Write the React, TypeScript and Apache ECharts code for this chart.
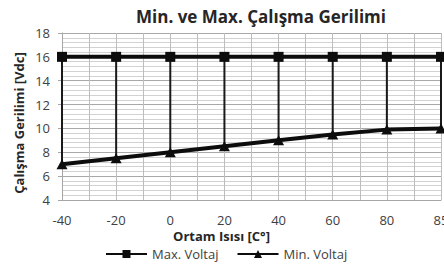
import React, { useEffect, useRef } from "react";
import * as echarts from "echarts";

const categories = ["-40", "-20", "0", "20", "40", "60", "80", "85"];
const maxVoltaj = [16, 16, 16, 16, 16, 16, 16, 16];
const minVoltaj = [7, 7.5, 8, 8.5, 9, 9.5, 9.9, 10];
const yTicks = { min: 4, max: 18, interval: 2 };
const titleText = "Min. ve Max. Çalışma Gerilimi";
const xTitle = "Ortam Isısı [C°]";
const yTitle = "Çalışma Gerilimi [Vdc]";

const FONT = "'Open Sans', 'Liberation Sans', sans-serif";
const TXT = "#404040";
const DARK = "#262626";

export default function App() {
  const ref = useRef<HTMLDivElement>(null);
  useEffect(() => {
    if (!ref.current) return;
    const chart = echarts.init(ref.current, undefined, { renderer: "svg" });
    const hiLo = categories.map((_, i) => [i, maxVoltaj[i], minVoltaj[i]]);
    chart.setOption({
      animation: false,
      backgroundColor: "#ffffff",
      textStyle: { fontFamily: FONT },
      graphic: [
        {
          type: "text",
          x: 261,
          y: 16.5,
          style: {
            text: titleText,
            textAlign: "center",
            textVerticalAlign: "middle",
            font: `bold 17px ${FONT}`,
            fill: DARK,
          },
        },
        {
          type: "text",
          x: 221.5,
          y: 236,
          style: {
            text: xTitle,
            textAlign: "center",
            textVerticalAlign: "middle",
            font: `bold 13px ${FONT}`,
            fill: DARK,
          },
        },
        {
          type: "text",
          x: 19,
          y: 123,
          rotation: Math.PI / 2,
          style: {
            text: yTitle,
            textAlign: "center",
            textVerticalAlign: "middle",
            font: `bold 13px ${FONT}`,
            fill: DARK,
          },
        },
      ],
      grid: {
        left: 62,
        right: 3,
        top: 33,
        bottom: 64,
        containLabel: false,
        outerBoundsMode: "none",
      },
      legend: {
        left: 105,
        top: 247,
        padding: 0,
        itemWidth: 41,
        itemHeight: 10,
        itemGap: 18,
        textStyle: { fontFamily: FONT, fontSize: 13, color: TXT, lineHeight: 14 },
        data: ["Max. Voltaj", "Min. Voltaj"],
      },
      xAxis: [
        {
          type: "category",
          data: categories,
          boundaryGap: false,
          axisLine: { lineStyle: { color: "#a6a6a6", width: 1 } },
          axisTick: { show: false },
          axisLabel: { fontFamily: FONT, fontSize: 13, color: TXT, margin: 13, hideOverlap: false },
          splitLine: { show: false },
        },
        {
          type: "value",
          min: 0,
          max: 7,
          interval: 0.5,
          position: "bottom",
          show: true,
          axisLine: { show: false },
          axisTick: { show: false },
          axisLabel: { show: false },
          splitLine: { show: true, lineStyle: { color: "#bdbdbd", width: 1 } },
        },
      ],
      yAxis: {
        type: "value",
        min: yTicks.min,
        max: yTicks.max,
        interval: yTicks.interval,
        axisLine: { show: true, lineStyle: { color: "#a6a6a6" } },
        axisTick: { show: true, length: 4, lineStyle: { color: "#a6a6a6" } },
        axisLabel: { fontFamily: FONT, fontSize: 13, color: TXT, margin: 12 },
        splitLine: { show: true, lineStyle: { color: "#a8a8a8", width: 1 } },
        minorTick: { show: true, splitNumber: 5, length: 0 },
        minorSplitLine: { show: true, lineStyle: { color: "#d2d2d2", width: 1 } },
      },
      series: [
        {
          type: "custom",
          xAxisIndex: 0,
          data: hiLo,
          encode: { x: 0, y: [1, 2] },
          silent: true,
          z: 1,
          renderItem: (params: any, api: any) => {
            const i = api.value(0);
            const p1 = api.coord([i, api.value(1)]);
            const p2 = api.coord([i, api.value(2)]);
            return {
              type: "line",
              shape: { x1: p1[0], y1: p1[1], x2: p2[0], y2: p2[1] },
              style: { stroke: "#1a1a1a", lineWidth: 2 },
            };
          },
        },
        {
          name: "Max. Voltaj",
          type: "line",
          xAxisIndex: 0,
          data: maxVoltaj,
          symbol: "rect",
          symbolSize: 10,
          z: 3,
          lineStyle: { color: "#0d0d0d", width: 4 },
          itemStyle: { color: "#0d0d0d", borderWidth: 0 },
        },
        {
          name: "Min. Voltaj",
          type: "line",
          xAxisIndex: 0,
          data: minVoltaj,
          symbol: "triangle",
          symbolSize: [11, 10],
          z: 3,
          lineStyle: { color: "#0d0d0d", width: 4 },
          itemStyle: { color: "#0d0d0d", borderWidth: 0 },
        },
        {
          type: "line",
          xAxisIndex: 1,
          data: [],
          silent: true,
        },
      ],
    });
    return () => chart.dispose();
  }, []);
  return (
    <div
      ref={ref}
      style={{ position: "fixed", left: 0, top: 0, width: 444, height: 264 }}
    />
  );
}
